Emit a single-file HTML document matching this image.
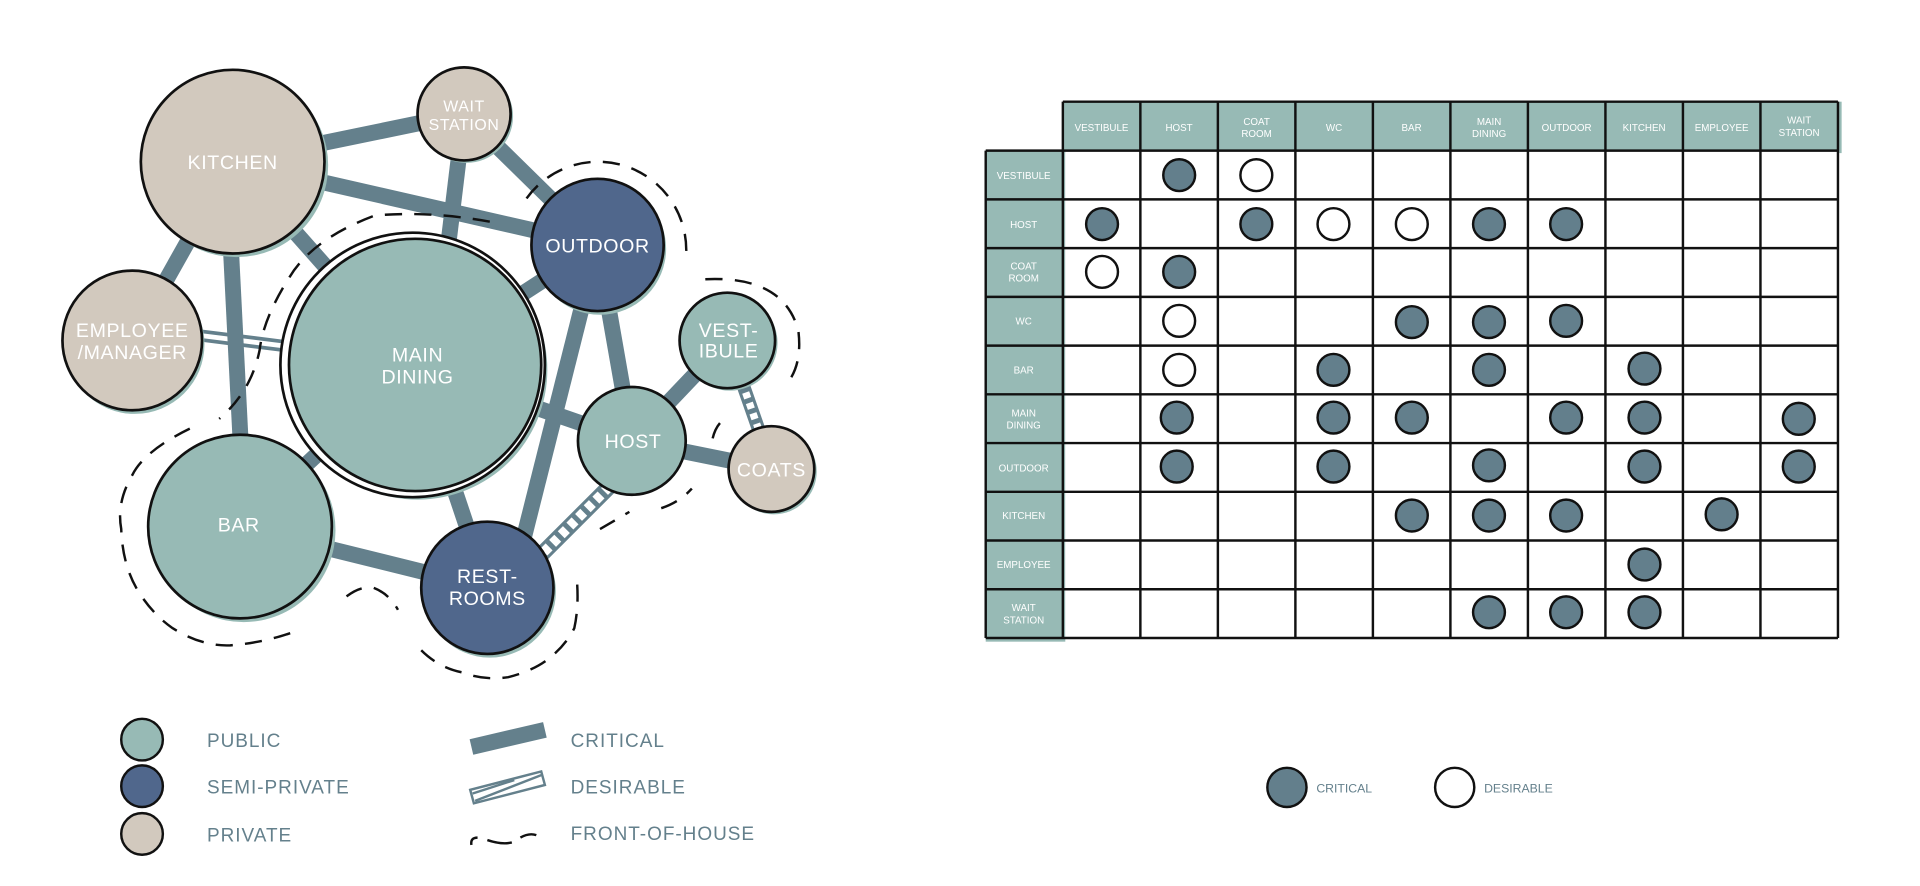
<!DOCTYPE html>
<html><head><meta charset="utf-8"><style>
html,body{margin:0;padding:0;background:#fff;}
svg{display:block;}
text{font-family:"Liberation Sans",sans-serif;}
</style></head><body>
<svg width="1920" height="886" viewBox="0 0 1568 723.5" xmlns="http://www.w3.org/2000/svg">
<rect width="1568" height="723.5" fill="#fff"/>
<g stroke="#64808c" stroke-width="13" stroke-linecap="butt" fill="none">
<line x1="190" y1="132" x2="379" y2="93"/>
<line x1="190" y1="132" x2="488" y2="200"/>
<line x1="190" y1="132" x2="108" y2="278"/>
<line x1="185" y1="132" x2="200" y2="430"/>
<line x1="190" y1="132" x2="337" y2="298"/>
<line x1="379" y1="93" x2="360" y2="250"/>
<line x1="379" y1="93" x2="488" y2="200"/>
<line x1="337" y1="298" x2="488" y2="200"/>
<line x1="337" y1="298" x2="516" y2="360"/>
<line x1="337" y1="298" x2="196" y2="430"/>
<line x1="337" y1="298" x2="398" y2="480"/>
<line x1="196" y1="430" x2="398" y2="480"/>
<line x1="488" y1="200" x2="516" y2="360"/>
<line x1="488" y1="200" x2="420" y2="470"/>
<line x1="516" y1="360" x2="594" y2="278"/>
<line x1="516" y1="360" x2="630" y2="383"/>
</g>
<g fill="none">
<line x1="160" y1="270" x2="240" y2="280" stroke="#64808c" stroke-width="3"/>
<line x1="160" y1="277" x2="240" y2="287" stroke="#64808c" stroke-width="3"/>
<line x1="505" y1="390" x2="440" y2="455" stroke="#64808c" stroke-width="13"/>
<line x1="505" y1="390" x2="440" y2="455" stroke="#fff" stroke-width="8" stroke-dasharray="6 4"/>
<line x1="606" y1="312" x2="620" y2="352" stroke="#64808c" stroke-width="11"/>
<line x1="606" y1="312" x2="620" y2="352" stroke="#fff" stroke-width="6" stroke-dasharray="5 4"/>
</g>
<g fill="none" stroke="#111" stroke-width="2" stroke-dasharray="14 10">
<path d="M430,162 A72,72 0 0 1 560,212"/>
<path d="M576,228 Q640,225 652,270 Q655,295 645,310"/>
<path d="M582,358 Q585,345 595,340"/>
<path d="M400,181 Q350,172 306,176 Q255,195 236,227 Q215,260 212,286 Q205,320 179,342"/>
<path d="M155,350 Q118,368 108,388 Q95,410 99,432 Q100,462 113,483 Q125,502 141,513 Q165,528 188,527 Q215,525 240,516"/>
<path d="M283,487 Q295,478 305,480 Q318,485 325,498"/>
<path d="M344,531 Q358,545 377,549 Q396,556 415,553 Q435,548 448,538 Q462,527 469,513 Q473,495 471,472"/>
<path d="M490,432 Q502,425 514,418"/>
<path d="M540,415 Q555,410 565,399"/>
</g>
<g stroke="#111" stroke-width="2.2">
<circle cx="193" cy="135" r="75" fill="#97bab5" stroke="none"/>
<circle cx="190" cy="132" r="75" fill="#d2c9be"/>
<circle cx="381" cy="95" r="38" fill="#97bab5" stroke="none"/>
<circle cx="379" cy="93" r="38" fill="#d2c9be"/>
<circle cx="110" cy="281" r="57" fill="#97bab5" stroke="none"/>
<circle cx="108" cy="278" r="57" fill="#d2c9be"/>
<circle cx="341" cy="302" r="106" fill="#97bab5" stroke="none"/>
<circle cx="337" cy="298" r="108" fill="#fff"/>
<circle cx="339" cy="298" r="103" fill="#97bab5"/>
<circle cx="490" cy="203" r="54" fill="#97bab5" stroke="none"/>
<circle cx="488" cy="200" r="54" fill="#50678c"/>
<circle cx="199" cy="433" r="75" fill="#97bab5" stroke="none"/>
<circle cx="196" cy="430" r="75" fill="#97bab5"/>
<circle cx="400" cy="483" r="54" fill="#97bab5" stroke="none"/>
<circle cx="398" cy="480" r="54" fill="#50678c"/>
<circle cx="516" cy="360" r="44" fill="#97bab5"/>
<circle cx="596" cy="280" r="39" fill="#97bab5" stroke="none"/>
<circle cx="594" cy="278" r="39" fill="#97bab5"/>
<circle cx="632" cy="385" r="35" fill="#97bab5" stroke="none"/>
<circle cx="630" cy="383" r="35" fill="#d2c9be"/>
</g>
<g fill="#fff" font-size="16" text-anchor="middle" letter-spacing="0.5">
<text x="190" y="138">KITCHEN</text>
<text x="379" y="91" font-size="13">WAIT</text>
<text x="379" y="106" font-size="13">STATION</text>
<text x="488" y="206">OUTDOOR</text>
<text x="341" y="295">MAIN</text>
<text x="341" y="313">DINING</text>
<text x="108" y="275">EMPLOYEE</text>
<text x="108" y="293">/MANAGER</text>
<text x="195" y="434">BAR</text>
<text x="398" y="476">REST-</text>
<text x="398" y="494">ROOMS</text>
<text x="517" y="366">HOST</text>
<text x="595" y="275">VEST-</text>
<text x="595" y="292">IBULE</text>
<text x="630" y="389">COATS</text>
</g>
<g stroke="#111" stroke-width="2">
<circle cx="116" cy="604" r="17" fill="#97bab5"/>
<circle cx="116" cy="642" r="17" fill="#50678c"/>
<circle cx="116" cy="681" r="17" fill="#d2c9be"/>
</g>
<g fill="#64808c" font-size="15.5" letter-spacing="0.8">
<text x="169" y="610">PUBLIC</text>
<text x="169" y="648">SEMI-PRIVATE</text>
<text x="169" y="687">PRIVATE</text>
<text x="466" y="610">CRITICAL</text>
<text x="466" y="648">DESIRABLE</text>
<text x="466" y="686">FRONT-OF-HOUSE</text>
</g>
<line x1="385" y1="610" x2="445" y2="596" stroke="#64808c" stroke-width="13"/>
<g stroke="#64808c" stroke-width="2" fill="none">
<polygon points="384,645 442,630 445,641 387,656"/>
<line x1="388" y1="654" x2="442" y2="633"/>
<line x1="386" y1="648" x2="420" y2="637"/>
</g>
<path d="M385,690 Q384,684 390,684 M398,686 Q410,690 418,688 M425,684 Q432,680 438,682" fill="none" stroke="#111" stroke-width="2"/>
<g fill="#97bab5">
<rect x="868" y="83" width="636" height="42"/>
<rect x="805" y="123" width="65" height="401"/>
</g>
<rect x="870" y="123" width="632" height="398" fill="#fff"/>
<g stroke="#111" stroke-width="2" fill="none">
<line x1="868" y1="83" x2="1501" y2="83"/>
<line x1="805" y1="123" x2="1501" y2="123"/>
<line x1="805" y1="162.8" x2="1501" y2="162.8"/>
<line x1="805" y1="202.6" x2="1501" y2="202.6"/>
<line x1="805" y1="242.4" x2="1501" y2="242.4"/>
<line x1="805" y1="282.2" x2="1501" y2="282.2"/>
<line x1="805" y1="322" x2="1501" y2="322"/>
<line x1="805" y1="361.8" x2="1501" y2="361.8"/>
<line x1="805" y1="401.6" x2="1501" y2="401.6"/>
<line x1="805" y1="441.4" x2="1501" y2="441.4"/>
<line x1="805" y1="481.2" x2="1501" y2="481.2"/>
<line x1="805" y1="521" x2="1501" y2="521"/>
<line x1="805" y1="123" x2="805" y2="521"/>
<line x1="868" y1="83" x2="868" y2="521"/>
<line x1="931.3" y1="83" x2="931.3" y2="521"/>
<line x1="994.6" y1="83" x2="994.6" y2="521"/>
<line x1="1057.9" y1="83" x2="1057.9" y2="521"/>
<line x1="1121.2" y1="83" x2="1121.2" y2="521"/>
<line x1="1184.5" y1="83" x2="1184.5" y2="521"/>
<line x1="1247.8" y1="83" x2="1247.8" y2="521"/>
<line x1="1311.1" y1="83" x2="1311.1" y2="521"/>
<line x1="1374.4" y1="83" x2="1374.4" y2="521"/>
<line x1="1437.7" y1="83" x2="1437.7" y2="521"/>
<line x1="1501" y1="83" x2="1501" y2="521"/>
</g>
<g fill="#fff" font-size="8" text-anchor="middle">
<text x="899.6" y="107">VESTIBULE</text>
<text x="962.9" y="107">HOST</text>
<text x="1026.2" y="102">COAT</text><text x="1026.2" y="112">ROOM</text>
<text x="1089.5" y="107">WC</text>
<text x="1152.8" y="107">BAR</text>
<text x="1216.1" y="102">MAIN</text><text x="1216.1" y="112">DINING</text>
<text x="1279.4" y="107">OUTDOOR</text>
<text x="1342.7" y="107">KITCHEN</text>
<text x="1406" y="107">EMPLOYEE</text>
<text x="1469.3" y="101">WAIT</text><text x="1469.3" y="111">STATION</text>
<text x="836" y="146">VESTIBULE</text>
<text x="836" y="186">HOST</text>
<text x="836" y="220">COAT</text><text x="836" y="230">ROOM</text>
<text x="836" y="265">WC</text>
<text x="836" y="305">BAR</text>
<text x="836" y="340">MAIN</text><text x="836" y="350">DINING</text>
<text x="836" y="385">OUTDOOR</text>
<text x="836" y="424">KITCHEN</text>
<text x="836" y="464">EMPLOYEE</text>
<text x="836" y="499">WAIT</text><text x="836" y="509">STATION</text>
</g>
<g stroke="#111" stroke-width="2" fill="#637f8c">
<circle cx="963" cy="143" r="13"/>
<circle cx="900" cy="183" r="13"/><circle cx="1026" cy="183" r="13"/><circle cx="1216" cy="183" r="13"/><circle cx="1279" cy="183" r="13"/>
<circle cx="963" cy="222" r="13"/>
<circle cx="1153" cy="263" r="13"/><circle cx="1216" cy="263" r="13"/><circle cx="1279" cy="262" r="13"/>
<circle cx="1089" cy="302" r="13"/><circle cx="1216" cy="302" r="13"/><circle cx="1343" cy="301" r="13"/>
<circle cx="961" cy="341" r="13"/><circle cx="1089" cy="341" r="13"/><circle cx="1153" cy="341" r="13"/><circle cx="1279" cy="341" r="13"/><circle cx="1343" cy="341" r="13"/><circle cx="1469" cy="342" r="13"/>
<circle cx="961" cy="381" r="13"/><circle cx="1089" cy="381" r="13"/><circle cx="1216" cy="380" r="13"/><circle cx="1343" cy="381" r="13"/><circle cx="1469" cy="381" r="13"/>
<circle cx="1153" cy="421" r="13"/><circle cx="1216" cy="421" r="13"/><circle cx="1279" cy="421" r="13"/><circle cx="1406" cy="420" r="13"/>
<circle cx="1343" cy="461" r="13"/>
<circle cx="1216" cy="500" r="13"/><circle cx="1279" cy="500" r="13"/><circle cx="1343" cy="500" r="13"/>
<circle cx="1051" cy="643" r="16"/>
</g>
<g stroke="#111" stroke-width="2" fill="#fff">
<circle cx="1026" cy="143" r="13"/>
<circle cx="1089" cy="183" r="13"/><circle cx="1153" cy="183" r="13"/>
<circle cx="900" cy="222" r="13"/>
<circle cx="963" cy="262" r="13"/>
<circle cx="963" cy="302" r="13"/>
<circle cx="1188" cy="643" r="16"/>
</g>
<g fill="#64808c" font-size="10">
<text x="1075" y="647">CRITICAL</text>
<text x="1212" y="647">DESIRABLE</text>
</g>
</svg>
</body></html>
